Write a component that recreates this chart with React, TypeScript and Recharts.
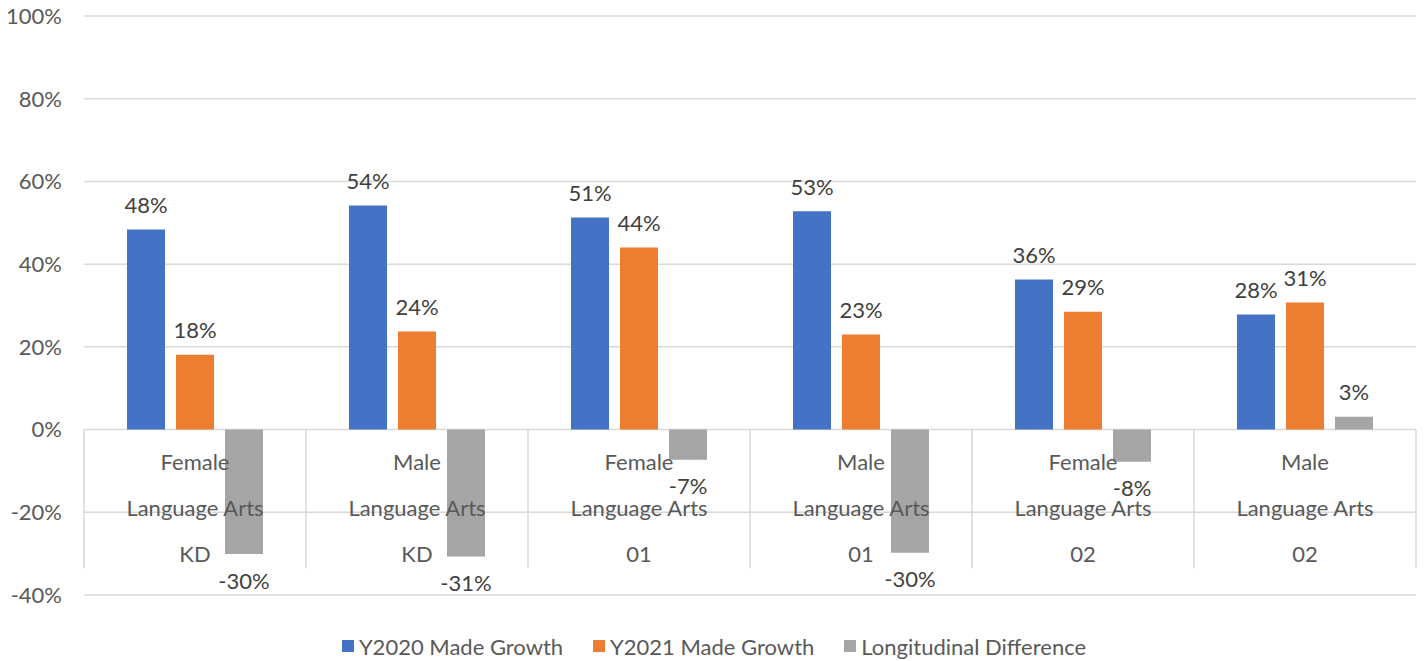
import React from "react";
import { Bar, BarChart, CartesianGrid, LabelList, Legend, XAxis, YAxis } from "recharts";

// Three-level category labels, one entry per group.
const genders = ["Female", "Male", "Female", "Male", "Female", "Male"];
const subjects = ["Language Arts", "Language Arts", "Language Arts", "Language Arts", "Language Arts", "Language Arts"];
const grades = ["KD", "KD", "01", "01", "02", "02"];

const y2020 = [48.4, 54.2, 51.3, 52.8, 36.3, 27.8];
const y2021 = [18.1, 23.7, 44.0, 23.0, 28.5, 30.7];
const diff = [-30.1, -30.7, -7.3, -29.8, -7.8, 3.1];

const yTicks = [-40, -20, 0, 20, 40, 60, 80, 100];

const SERIES = [
  { key: "y2020", name: "Y2020 Made Growth", color: "#4472C4" },
  { key: "y2021", name: "Y2021 Made Growth", color: "#ED7D31" },
  { key: "diff", name: "Longitudinal Difference", color: "#A5A5A5" },
];

const rows = genders.map((g, i) => ({
  cat: `${g}|${subjects[i]}|${grades[i]}`,
  y2020: y2020[i],
  y2021: y2021[i],
  diff: diff[i],
}));

const W = 1424;
const H = 661;
const PLOT_TOP = 16;
const PLOT_BOTTOM = 595;
const PLOT_LEFT = 84;
const PLOT_RIGHT = 1416;
const Y_MIN = -40;
const Y_MAX = 100;
const LEGEND_H = 28;
const X_AXIS_H = 10;
const FONT = "Lato, 'Open Sans', sans-serif";
const AXIS_COLOR = "#595959";
const GRID = "#D9D9D9";

const zeroY = PLOT_BOTTOM - ((PLOT_BOTTOM - PLOT_TOP) * (0 - Y_MIN)) / (Y_MAX - Y_MIN);
const band = (PLOT_RIGHT - PLOT_LEFT) / rows.length;

// Excel draws the category axis at the zero line, so the labels hang from there.
function CategoryTick(props: any) {
  const { x, payload, index } = props;
  const [a, b, c] = String(payload.value).split("|");
  const left = x - band / 2;
  const right = x + band / 2;
  return (
    <g>
      <line x1={left} x2={left} y1={zeroY} y2={zeroY + 139} stroke={GRID} strokeWidth={1.5} />
      {index === rows.length - 1 && (
        <line x1={right} x2={right} y1={zeroY} y2={zeroY + 139} stroke={GRID} strokeWidth={1.5} />
      )}
      {[a, b, c].map((t, i) => (
        <text
          key={i}
          x={x}
          y={zeroY + 32 + i * 46}
          textAnchor="middle"
          dominantBaseline="central"
          fill={AXIS_COLOR}
          fontSize={22}
          fontFamily={FONT}
        >
          {t}
        </text>
      ))}
    </g>
  );
}

function ValueLabel(props: any) {
  const { x, y, width, height, value } = props;
  const top = Math.min(y, y + height);
  const bottom = Math.max(y, y + height);
  const cy = value >= 0 ? top - 25 : bottom + 26;
  return (
    <text
      x={x + width / 2}
      y={cy}
      textAnchor="middle"
      dominantBaseline="central"
      fill="#404040"
      fontSize={22}
      fontFamily={FONT}
    >
      {`${Math.round(value)}%`}
    </text>
  );
}

function LegendContent() {
  return (
    <div
      style={{
        display: "flex",
        justifyContent: "center",
        alignItems: "center",
        height: LEGEND_H,
        fontFamily: FONT,
        fontSize: 22,
        color: AXIS_COLOR,
        gap: 30,
        paddingLeft: 4,
      }}
    >
      {SERIES.map((s) => (
        <div key={s.key} style={{ display: "flex", alignItems: "center" }}>
          <span style={{ width: 12, height: 12, background: s.color, marginRight: 5, display: "inline-block" }} />
          <span>{s.name}</span>
        </div>
      ))}
    </div>
  );
}

export default function App() {
  return (
    <div style={{ position: "absolute", left: 0, top: 0, width: W, height: H, background: "#fff" }}>
      <BarChart
        width={W}
        height={H}
        data={rows}
        margin={{ top: PLOT_TOP, right: W - PLOT_RIGHT, left: 0, bottom: H - PLOT_BOTTOM - LEGEND_H - X_AXIS_H }}
        barCategoryGap={43}
        barGap={11}
      >
        <CartesianGrid vertical={false} stroke={GRID} strokeWidth={1.5} />
        <YAxis
          domain={[Y_MIN, Y_MAX]}
          ticks={yTicks}
          interval={0}
          width={PLOT_LEFT}
          axisLine={false}
          tickLine={false}
          tickSize={0}
          tickMargin={22}
          tickFormatter={(v) => `${v}%`}
          tick={{ fill: AXIS_COLOR, fontSize: 22, fontFamily: FONT }}
        />
        <XAxis
          dataKey="cat"
          height={X_AXIS_H}
          axisLine={false}
          tickLine={false}
          interval={0}
          tick={CategoryTick}
        />
        <Legend
          verticalAlign="bottom"
          height={LEGEND_H}
          content={<LegendContent />}
          wrapperStyle={{ bottom: 1, left: 0, width: W }}
        />
        {SERIES.map((s) => (
          <Bar key={s.key} dataKey={s.key} name={s.name} fill={s.color} isAnimationActive={false}>
            <LabelList dataKey={s.key} content={<ValueLabel />} />
          </Bar>
        ))}
      </BarChart>
    </div>
  );
}
